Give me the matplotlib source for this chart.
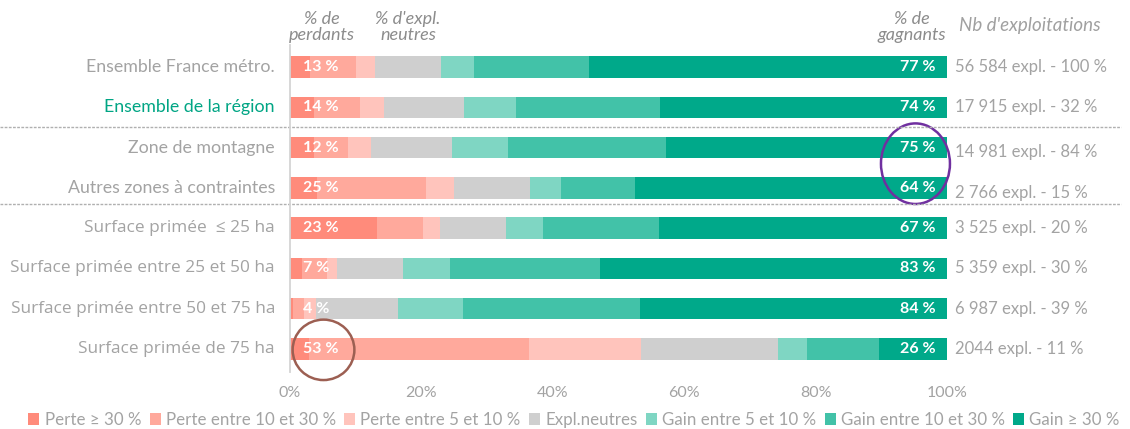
import matplotlib
matplotlib.use("Agg")
import matplotlib.pyplot as plt
from matplotlib.patches import Patch, Ellipse
import numpy as np

plt.rcParams['font.family'] = ['Lato', 'DejaVu Sans']

categories = [
    "Ensemble France métro.",
    "Ensemble de la région",
    "Zone de montagne",
    "Autres zones à contraintes",
    "Surface primée  ≤ 25 ha",
    "Surface primée entre 25 et 50 ha",
    "Surface primée entre 50 et 75 ha",
    "Surface primée de 75 ha",
]
series_names = [
    "Perte ≥ 30 %", "Perte entre 10 et 30 %", "Perte entre 5 et 10 %",
    "Expl.neutres", "Gain entre 5 et 10 %", "Gain entre 10 et 30 %", "Gain ≥ 30 %",
]
perte_30 = [3.0, 3.7, 3.7, 4.1, 13.3, 1.8, 0.4, 2.9]
perte_10_30 = [7.0, 7.0, 5.1, 16.6, 6.9, 3.8, 1.7, 33.5]
perte_5_10 = [3.0, 3.6, 3.6, 4.3, 2.7, 1.6, 1.8, 17.1]
neutres = [10.0, 12.2, 12.3, 11.5, 10.0, 10.0, 12.5, 20.8]
gain_5_10 = [5.0, 7.9, 8.5, 4.7, 5.6, 7.2, 10.0, 4.4]
gain_10_30 = [17.5, 21.9, 24.1, 11.3, 17.7, 22.8, 26.9, 11.0]
gain_30 = [54.5, 43.7, 42.7, 47.5, 43.8, 52.8, 46.7, 10.3]
pct_perdants = ["13 %", "14 %", "12 %", "25 %", "23 %", "7 %", "4 %", "53 %"]
pct_gagnants = ["77 %", "74 %", "75 %", "64 %", "67 %", "83 %", "84 %", "26 %"]
nb_expl = ["56 584 expl. - 100 %", "17 915 expl. - 32 %", "14 981 expl. - 84 %",
           "2 766 expl. - 15 %", "3 525 expl. - 20 %", "5 359 expl. - 30 %",
           "6 987 expl. - 39 %", "2044 expl. - 11 %"]
xticks = [0, 20, 40, 60, 80, 100]
xtick_labels = ["0%", "20%", "40%", "60%", "80%", "100%"]

colors = ["#ff8b7b", "#ffa99c", "#ffc4bc", "#cfcfcf", "#7fd6c3", "#42c2a8", "#00a98a"]
gray_txt = "#a3a3a3"
teal_txt = "#00a584"

series = [perte_30, perte_10_30, perte_5_10, neutres, gain_5_10, gain_10_30, gain_30]

fig = plt.figure(figsize=(11.3, 4.29), dpi=100)
ax = fig.add_axes([290 / 1130, 1 - 372 / 429, 657 / 1130, 327 / 429])

y = np.arange(len(categories))
left = np.zeros(len(categories))
for vals, col, name in zip(series, colors, series_names):
    ax.barh(y, vals, left=left, height=0.53, color=col, edgecolor='none', label=name)
    left += np.array(vals)

ax.set_xlim(0, 100)
ax.set_ylim(7.57, -0.546)
ax.set_xticks(xticks)
ax.set_xticklabels(xtick_labels, color=gray_txt, fontsize=11.5)
ax.tick_params(axis='x', length=0, pad=10)
ax.set_yticks([])
for s in ['top', 'right', 'bottom']:
    ax.spines[s].set_visible(False)
ax.spines['left'].set_color('#d4d4d4')
ax.spines['left'].set_linewidth(1.3)

# Category labels
for i, cat in enumerate(categories):
    if i < 4:
        color = teal_txt if i == 1 else gray_txt
        ax.text(-2.3, i, cat, ha='right', va='center', fontsize=12.8, color=color)
    else:
        ax.text(-2.3, i, cat, ha='right', va='center', fontsize=12.4, color=gray_txt,
                family=['Open Sans', 'DejaVu Sans'])
    ax.text(2.0, i, pct_perdants[i], ha='left', va='center', fontsize=11.5,
            color='white', fontweight='bold')
    ax.text(98.2, i, pct_gagnants[i], ha='right', va='center', fontsize=11.5,
            color='white', fontweight='bold')
    dy = 0.12 if i == 3 else (0.1 if i == 2 else 0)
    ax.text(101.2, i + dy, nb_expl[i], ha='left', va='center', fontsize=12,
            color=gray_txt)

# Dashed separators
for ysep in [1.5, 3.4]:
    ax.plot([-0.441, 1.265], [ysep, ysep], transform=ax.get_yaxis_transform(),
            color='#b0b0b0', linestyle=(0, (2, 1)), linewidth=1.0, clip_on=False)

# Column headers
hdr = dict(fontsize=13, color='#8c8c8c', style='italic', ha='center', va='center',
           linespacing=1.05)
fig.text(322 / 1130, 1 - 27 / 429, "% de\nperdants", **hdr)
fig.text(408 / 1130, 1 - 27 / 429, "% d'expl.\nneutres", **hdr)
fig.text(912 / 1130, 1 - 27 / 429, "% de\ngagnants", **hdr)
fig.text(1030 / 1130, 1 - 26 / 429, "Nb d'exploitations", fontsize=13.5,
         color='#a0a0a0', style='italic', ha='center', va='center')

# Highlight ellipses
ax.add_patch(Ellipse((95.2, 2.4), 10.5, 2.0, fill=False, edgecolor='#7030a0',
                     linewidth=1.8, clip_on=False))
ax.add_patch(Ellipse((5.1, 7.02), 9.4, 1.5, fill=False, edgecolor='#9c5f52',
                     linewidth=1.8, clip_on=False))

# Legend
handles = [Patch(facecolor=c, edgecolor='none') for c in colors]
leg = fig.legend(handles, series_names, loc='center', bbox_to_anchor=(0.508, 1 - 420 / 429),
                 ncol=7, frameon=False, fontsize=12.2, handlelength=0.65,
                 handleheight=0.65, handletextpad=0.3, columnspacing=0.5,
                 borderaxespad=0, borderpad=0)
for t in leg.get_texts():
    t.set_color(gray_txt)

fig.savefig("out.png", dpi=100)
